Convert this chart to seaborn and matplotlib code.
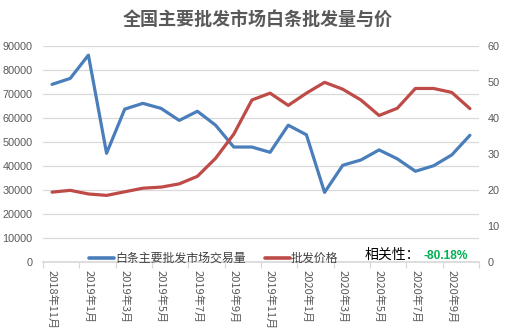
import matplotlib
matplotlib.use("Agg")
import matplotlib.pyplot as plt
import seaborn as sns
import pandas as pd
from matplotlib.lines import Line2D

months = ["2018年11月", "2018年12月", "2019年1月", "2019年2月", "2019年3月", "2019年4月",
          "2019年5月", "2019年6月", "2019年7月", "2019年8月", "2019年9月", "2019年10月",
          "2019年11月", "2019年12月", "2020年1月", "2020年2月", "2020年3月", "2020年4月",
          "2020年5月", "2020年6月", "2020年7月", "2020年8月", "2020年9月", "2020年10月"]
volume = [74000, 76500, 86200, 45300, 63700, 66100, 64000, 59000, 62800, 57000, 47900, 47900,
          45700, 57000, 53000, 29000, 40300, 42500, 46700, 43000, 37800, 40100, 44600, 52800]
price = [19.4, 19.9, 18.9, 18.5, 19.5, 20.5, 20.8, 21.7, 23.8, 28.8, 35.5, 45.0,
         46.9, 43.5, 46.9, 49.9, 48.0, 45.0, 40.7, 42.7, 48.2, 48.2, 47.1, 42.6]
left_ticks = list(range(0, 90001, 10000))
right_ticks = list(range(0, 61, 10))
title = "全国主要批发市场白条批发量与价"
s1 = "白条主要批发市场交易量"
s2 = "批发价格"
corr_label = "相关性："
corr_value = "-80.18%"

sns.set_theme(style="white")
plt.rcParams['font.family'] = ['Noto Sans CJK SC', 'DejaVu Sans']

df = pd.DataFrame({"month": months, "volume": volume, "price": price})

fig = plt.figure(figsize=(5.16, 3.34), dpi=100)
ax = fig.add_axes([0.0833, 0.2156, 0.845, 0.6467])
ax2 = ax.twinx()

blue = "#4A7EBB"
red = "#BE4B48"
gray = "#595959"

sns.lineplot(data=df, x="month", y="volume", ax=ax, color=blue, linewidth=2.3, sort=False)
sns.lineplot(data=df, x="month", y="price", ax=ax2, color=red, linewidth=2.3, sort=False)

ax.set_xlim(-0.5, len(months) - 0.5)
ax.set_ylim(0, 90000)
ax2.set_ylim(0, 60)
ax.set_yticks(left_ticks)
ax.set_yticklabels([str(v) for v in left_ticks], fontsize=7.8, color=gray, family="Liberation Sans")
ax2.set_yticks(right_ticks)
ax2.set_yticklabels([str(v) for v in right_ticks], fontsize=7.8, color=gray, family="Liberation Sans")
ax.set_xlabel("")
ax.set_ylabel("")
ax2.set_ylabel("")

ax.yaxis.grid(True, color="#D9D9D9", linewidth=0.9)
ax.set_axisbelow(True)
for a in (ax, ax2):
    for sp in a.spines.values():
        sp.set_visible(False)
ax.spines["bottom"].set_visible(True)
ax.spines["bottom"].set_color("#D9D9D9")
ax.tick_params(axis="y", length=0, pad=7.5)
ax2.tick_params(axis="y", length=0, pad=6)

pos = list(range(0, len(months), 2))
ax.set_xticks(pos)
ax.set_xticklabels([months[i] for i in pos], rotation=-90, fontsize=8, color=gray,
                   va="top", ha="center")
ax.set_xticks([i - 0.5 for i in range(0, len(months) + 1, 2)], minor=True)
ax.tick_params(axis="x", which="major", length=0, pad=6)
ax.tick_params(axis="x", which="minor", length=4, color="#D9D9D9", width=0.9, bottom=True)

handles = [Line2D([], [], color=blue, linewidth=2.6), Line2D([], [], color=red, linewidth=2.6)]
leg = ax.legend(handles, [s1, s2], ncol=2, loc="lower left", bbox_to_anchor=(0.095, -0.035),
                frameon=False, fontsize=8.6, handlelength=2.1, handletextpad=0.05,
                columnspacing=1.6, borderaxespad=0)
for t in leg.get_texts():
    t.set_color("#404040")

fig.text(365 / 516, 1 - 255 / 334, corr_label, fontsize=10, color="black", va="center", ha="left")
fig.text(424 / 516, 1 - 256 / 334, corr_value, fontsize=8.6, color="#00B050", va="center",
         ha="left", fontweight="bold", family="Liberation Sans")

fig.text(0.5, 1 - 19 / 334, title, fontsize=13, fontweight="bold", color=gray,
         ha="center", va="center")

fig.savefig("out.png", dpi=100)
